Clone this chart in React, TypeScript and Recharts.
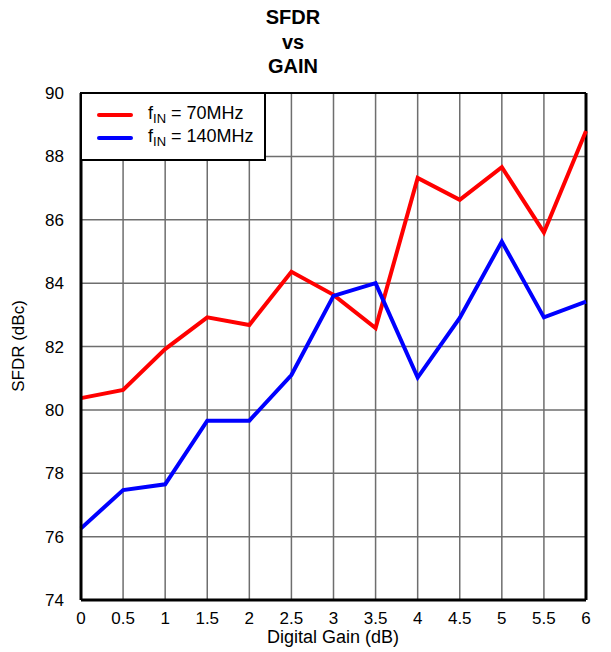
import React from "react";
import { LineChart, Line, XAxis, YAxis, CartesianGrid, ReferenceLine } from "recharts";

const gains = [0, 0.5, 1, 1.5, 2, 2.5, 3, 3.5, 4, 4.5, 5, 5.5, 6];
const sfdr70 = [80.37, 80.63, 81.92, 82.92, 82.68, 84.36, 83.63, 82.58, 87.32, 86.63, 87.66, 85.6, 88.8];
const sfdr140 = [76.26, 77.47, 77.65, 79.66, 79.66, 81.1, 83.6, 84.0, 81.02, 82.9, 85.31, 82.92, 83.42];
const yTicks = [74, 76, 78, 80, 82, 84, 86, 88, 90];
const titleLines = ["SFDR", "vs", "GAIN"];
const legendItems = [
  { color: "#ff0000", label: "70MHz" },
  { color: "#0000ff", label: "140MHz" },
];

const data = gains.map((g, i) => ({ gain: g, f70: sfdr70[i], f140: sfdr140[i] }));

const FONT = '"Liberation Sans", Arial, sans-serif';

function LegendBox() {
  return (
    <div
      style={{
        position: "absolute",
        left: 80,
        top: 92,
        width: 186,
        height: 69,
        border: "2px solid #000",
        background: "#fff",
        boxSizing: "border-box",
        fontFamily: FONT,
        fontSize: 18,
        color: "#000",
        paddingTop: 9,
      }}
    >
      {legendItems.map((it) => (
        <div key={it.label} style={{ display: "flex", alignItems: "center", height: 23 }}>
          <div style={{ width: 36, height: 4, background: it.color, marginLeft: 15, marginRight: 15, borderRadius: 2 }} />
          <span>
            f<sub style={{ fontSize: 13, verticalAlign: -4 }}>IN</sub> = {it.label}
          </span>
        </div>
      ))}
    </div>
  );
}

export default function App() {
  return (
    <div style={{ position: "absolute", left: 0, top: 0, width: 611, height: 652, background: "#fff", fontFamily: FONT }}>
      <div style={{ position: "absolute", left: 233, width: 120, top: 5, textAlign: "center", fontWeight: "bold", fontSize: 20, lineHeight: "24.5px", color: "#000" }}>
        {titleLines.map((t) => (
          <div key={t}>{t}</div>
        ))}
      </div>
      <LineChart
        width={611}
        height={652}
        data={data}
        margin={{ top: 93, right: 25, bottom: 0, left: 0 }}
        style={{ fontFamily: FONT }}
      >
        <CartesianGrid stroke="#6e6e6e" strokeWidth={1.5} />
        <XAxis
          dataKey="gain"
          type="number"
          domain={[0, 6]}
          ticks={gains}
          tickFormatter={(v: number) => String(v)}
          tickLine={false}
          axisLine={{ stroke: "#000", strokeWidth: 3 }}
          tick={{ fill: "#000", fontSize: 17 }}
          tickMargin={6}
          height={52}
          interval={0}
          allowDecimals
          label={() => (
            <text x={333} y={643} textAnchor="middle" fontSize={18} fill="#000" fontFamily={FONT}>
              Digital Gain (dB)
            </text>
          )}
        />
        <YAxis
          type="number"
          domain={[74, 90]}
          ticks={yTicks}
          tickLine={false}
          axisLine={{ stroke: "#000", strokeWidth: 3 }}
          tick={{ fill: "#000", fontSize: 17 }}
          tickMargin={11}
          width={81}
          interval={0}
          label={() => (
            <text x={24} y={346} textAnchor="middle" fontSize={17} fill="#000" fontFamily={FONT} transform="rotate(-90 24 346)">
              SFDR (dBc)
            </text>
          )}
        />
        <ReferenceLine y={90} stroke="#000" strokeWidth={2} />
        <ReferenceLine x={6} stroke="#000" strokeWidth={3} />
        <Line type="linear" dataKey="f70" stroke="#ff0000" strokeWidth={4} dot={false} isAnimationActive={false} />
        <Line type="linear" dataKey="f140" stroke="#0000ff" strokeWidth={4} dot={false} isAnimationActive={false} />
      </LineChart>
      <LegendBox />
    </div>
  );
}
